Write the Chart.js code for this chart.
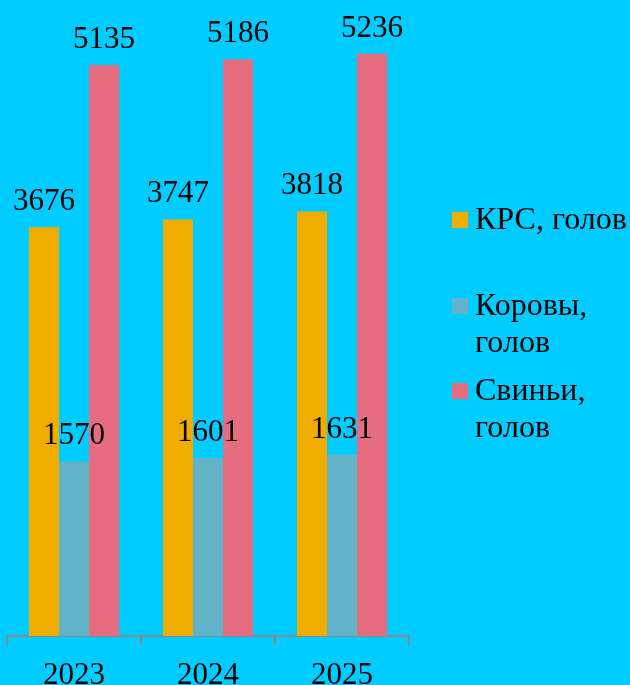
<!DOCTYPE html>
<html>
<head>
<meta charset="utf-8">
<script src="https://cdn.jsdelivr.net/npm/chart.js@4"></script>
<style>
  html, body { margin: 0; padding: 0; background: #00CCFF; overflow: hidden; }
  #wrap { position: relative; width: 630px; height: 700px; }
  #legend {
    position: absolute; left: 452px; top: 200px;
    font-family: "Liberation Serif", "Times New Roman", serif;
    font-size: 32px; line-height: 37px; color: #000;
  }
  .item { display: flex; align-items: flex-start; height: 85.5px; }
  .box { width: 16px; height: 16px; margin-top: 12px; margin-right: 7px; flex: none; }
  .txt { width: 155px; }
</style>
</head>
<body>
<div id="wrap">
  <canvas id="chart" width="630" height="700"></canvas>
  <div id="legend"></div>
</div>
<script>
const years = ["2023", "2024", "2025"];
const seriesNames = ["КРС, голов", "Коровы, голов", "Свиньи, голов"];
const cattle = [3676, 3747, 3818];
const cows = [1570, 1601, 1631];
const pigs = [5135, 5186, 5236];
const colors = ["#F0AD00", "#63B3C8", "#E66C80"];

const serif = '"Liberation Serif", "Times New Roman", serif';

// value labels above each bar
const barLabels = {
  id: "barLabels",
  afterDatasetsDraw(chart) {
    const c = chart.ctx;
    c.save();
    c.font = "31px " + serif;
    c.fillStyle = "#000";
    c.textAlign = "center";
    c.textBaseline = "alphabetic";
    chart.data.datasets.forEach((ds, i) => {
      chart.getDatasetMeta(i).data.forEach((bar, j) => {
        c.fillText(String(ds.data[j]), bar.x, bar.y - 17);
      });
    });
    c.restore();
  },
};

const ctx = document.getElementById("chart");

new Chart(ctx, {
  type: "bar",
  data: {
    labels: years,
    datasets: [cattle, cows, pigs].map((d, i) => ({
      label: seriesNames[i],
      data: d,
      backgroundColor: colors[i],
      categoryPercentage: 0.672,
      barPercentage: 1.0,
    })),
  },
  options: {
    responsive: false,
    animation: false,
    layout: { padding: { left: 7, right: 221, top: 0, bottom: 0 } },
    plugins: {
      legend: { display: false },
      tooltip: { enabled: false },
    },
    scales: {
      x: {
        grid: {
          drawOnChartArea: false,
          drawTicks: true,
          tickLength: 9,
          color: "#898989",
          lineWidth: 2,
        },
        border: { display: true, color: "#898989", width: 2 },
        ticks: {
          color: "#000",
          font: { family: serif, size: 31 },
          padding: 12,
        },
        afterFit(scale) {
          scale.height = 64;
        },
      },
      y: {
        display: false,
        min: 0,
        max: 5720,
      },
    },
  },
  plugins: [barLabels],
});

// legend on the right, built from the series
const legend = document.getElementById("legend");
seriesNames.forEach((name, i) => {
  const item = document.createElement("div");
  item.className = "item";
  item.innerHTML =
    '<span class="box" style="background:' + colors[i] + '"></span><span class="txt">' + name + "</span>";
  legend.appendChild(item);
});
</script>
</body>
</html>
